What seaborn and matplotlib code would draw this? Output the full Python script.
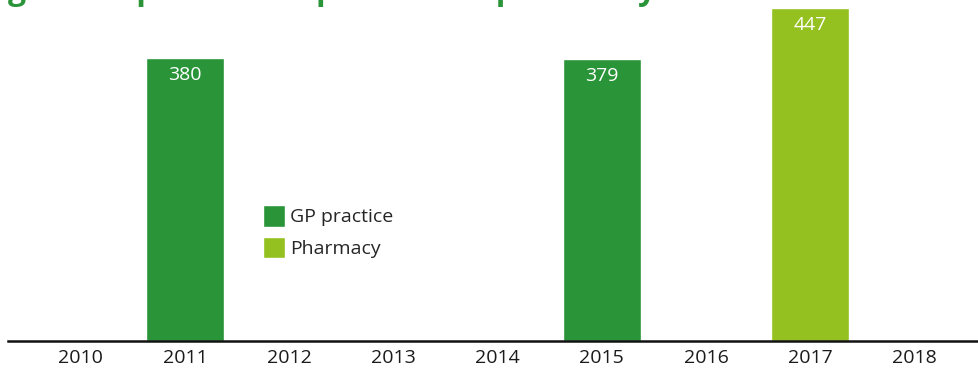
import numpy as np
import pandas as pd
import matplotlib
matplotlib.use("Agg")
import matplotlib.pyplot as plt
import seaborn as sns

# Data
years = ["2010", "2011", "2012", "2013", "2014", "2015", "2016", "2017", "2018"]
gp_practice = [np.nan, 380, np.nan, np.nan, np.nan, 379, np.nan, np.nan, np.nan]
pharmacy = [np.nan, np.nan, np.nan, np.nan, np.nan, np.nan, np.nan, 447, np.nan]
series_names = ["GP practice", "Pharmacy"]
series_colors = ["#2a9439", "#94c11f"]
title_text = "general practice or practice or pharmacy"

df = pd.concat([
    pd.DataFrame({"year": years, "value": gp_practice, "series": series_names[0]}),
    pd.DataFrame({"year": years, "value": pharmacy, "series": series_names[1]}),
]).dropna()

sns.set_theme(style="white")
plt.rcParams["font.family"] = ["Open Sans", "DejaVu Sans"]

W, H = 979, 371
fig = plt.figure(figsize=(W / 100, H / 100), dpi=100)
ax = fig.add_axes([8 / W, (H - 341) / H, (W - 8) / W, 341 / H])

sns.barplot(
    data=df, x="year", y="value", hue="series", order=years,
    hue_order=series_names, palette=series_colors, dodge=False,
    width=0.75, saturation=1, ax=ax,
)

for container in ax.containers:
    ax.bar_label(container, fmt="%d", padding=-19, color="white", fontsize=14)

ax.set_xlim(-0.70, 8.62)
ax.set_ylim(0, 457.7)
ax.set_xlabel("")
ax.set_ylabel("")
ax.set_yticks([])
ax.tick_params(axis="x", length=0, pad=6, labelsize=14, labelcolor="#1a1a1a")
for side in ["top", "right", "left"]:
    ax.spines[side].set_visible(False)
ax.spines["bottom"].set_color("#111111")
ax.spines["bottom"].set_linewidth(1.8)

ax.legend(
    loc="upper left", bbox_to_anchor=(263 / W, 1 - 205 / H),
    bbox_transform=fig.transFigure, frameon=False, fontsize=14,
    handlelength=1.12, handleheight=1.35, handletextpad=0.25,
    labelspacing=0.5, borderpad=0, borderaxespad=0,
)

fig.text(8 / W, 1 + 1 / H, title_text, color="#2a9439", fontsize=23,
         fontweight="bold", ha="left", va="baseline")

fig.savefig("out.png", dpi=100)
